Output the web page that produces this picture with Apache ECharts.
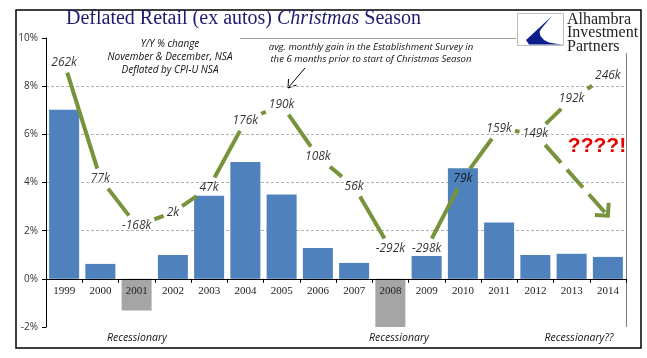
<!DOCTYPE html>
<html><head><meta charset="utf-8">
<script src="https://cdn.jsdelivr.net/npm/echarts@6/dist/echarts.min.js"></script>
<style>html,body{margin:0;padding:0;background:#fff}#c{width:647px;height:358px}</style>
</head><body><div id="c"></div>
<script>
// ---- data ----
const years = ['1999','2000','2001','2002','2003','2004','2005','2006','2007','2008','2009','2010','2011','2012','2013','2014'];
const retailYoY = [7.02,0.62,-1.31,0.99,3.45,4.85,3.50,1.28,0.66,-2.0,0.95,4.59,2.34,0.99,1.04,0.91];
const recessionYears = ['2001','2008'];
const payrollLabels = ['262k','77k','-168k','2k','47k','176k','190k','108k','56k','-292k','-298k','79k','159k','149k','192k','246k'];
// vertical placement of each payroll label, in units of the % axis
const payrollLabelPos = [8.98,4.16,2.21,2.75,3.79,6.56,7.23,5.07,3.83,1.26,1.26,4.16,6.23,6.02,7.47,8.43];
const arrowFromYear = '2012';
const arrowToYear = '2014';
const arrowTipPos = 2.62;
const yTicks = {min: -2, max: 10, interval: 2};
const recessionNotes = ['Recessionary', 'Recessionary', 'Recessionary??'];

// ---- drawing ----
const GREEN = '#77933C';
const LABEL_FONT_SIZE = 12;
const LABEL_FONT = 'italic ' + LABEL_FONT_SIZE + 'px "Open Sans"';
const mctx = document.createElement('canvas').getContext('2d');
mctx.font = LABEL_FONT;
const labelW = payrollLabels.map(t => mctx.measureText(t).width);

function exitT(dx, dy, hw, hh) {
  const tx = dx ? hw / Math.abs(dx) : Infinity;
  const ty = dy ? hh / Math.abs(dy) : Infinity;
  return Math.min(tx, ty);
}

const GRID = {left: 46, right: 21, top: 38, bottom: 31};
const plotH = 358 - GRID.top - GRID.bottom;
// distance from the bottom of the plot to the 0% line, derived from the y-axis range
const zeroOffset = plotH * (0 - yTicks.min) / (yTicks.max - yTicks.min);

const chart = echarts.init(document.getElementById('c'), null, {renderer: 'canvas'});

const barData = retailYoY.map((v, i) => ({
  value: v,
  itemStyle: {color: recessionYears.includes(years[i]) ? '#A5A5A5' : '#4F81BD'}
}));

const segData = payrollLabelPos.slice(0, -1).map((v, i) => [i, v]);
const labelData = payrollLabelPos.map((v, i) => [i, v]);
const fromIdx = years.indexOf(arrowFromYear), toIdx = years.indexOf(arrowToYear);

const option = {
  animation: false,
  title: {
    text: '{a|Deflated Retail (ex autos) }{b|Christmas}{a| Season}',
    left: 66, top: 9, padding: 0,
    textStyle: {
      fontWeight: 'normal',
      rich: {
        a: {fontFamily: '"Liberation Serif"', fontSize: 20, fontWeight: 'normal', color: '#1B1B6F'},
        b: {fontFamily: '"Liberation Serif"', fontSize: 20, fontWeight: 'normal', fontStyle: 'italic', color: '#1B1B6F'}
      }
    }
  },
  grid: Object.assign({containLabel: false}, GRID),
  xAxis: {
    type: 'category', data: years, z: 5, position: 'bottom', offset: -zeroOffset,
    axisLine: {onZero: false, lineStyle: {color: '#000', width: 1}},
    axisTick: {show: true, length: 4, lineStyle: {color: '#000'}},
    axisLabel: {fontFamily: '"Liberation Serif"', fontSize: 11, color: '#222', margin: 7}
  },
  yAxis: {
    type: 'value', min: yTicks.min, max: yTicks.max, interval: yTicks.interval,
    axisLine: {show: true, lineStyle: {color: '#000'}},
    axisTick: {show: true, length: 4, lineStyle: {color: '#000'}},
    axisLabel: {formatter: '{value}%', fontFamily: '"Open Sans"', fontSize: 10, color: '#333', margin: 8},
    splitLine: {show: true, showMinLine: false, showMaxLine: false, lineStyle: {color: '#B0B0B0', type: [3, 2]}}
  },
  series: [
    {type: 'bar', data: barData, barWidth: 30, z: 2, silent: true},
    {
      type: 'custom', z: 4, silent: true, data: segData,
      renderItem(params, api) {
        const i = params.dataIndex;
        const a = api.coord([i, payrollLabelPos[i]]);
        const b = api.coord([i + 1, payrollLabelPos[i + 1]]);
        const dx = b[0] - a[0], dy = b[1] - a[1];
        const ta = exitT(dx, dy, labelW[i] / 2 + 3, 10);
        const tb = exitT(dx, dy, labelW[i + 1] / 2 + 3, 10);
        if (ta + tb >= 0.95) return null;
        return {type: 'line',
          shape: {x1: a[0] + dx * ta, y1: a[1] + dy * ta, x2: b[0] - dx * tb, y2: b[1] - dy * tb},
          style: {stroke: GREEN, lineWidth: 4}};
      }
    },
    {
      type: 'custom', z: 4, silent: true, data: [[fromIdx, payrollLabelPos[fromIdx], toIdx, arrowTipPos]],
      renderItem(params, api) {
        const a = api.coord([api.value(0), api.value(1)]);
        const b = api.coord([api.value(2), api.value(3)]);
        const dx = b[0] - a[0], dy = b[1] - a[1];
        const len = Math.hypot(dx, dy);
        const ta = exitT(dx, dy, labelW[fromIdx] / 2 + 4, 11);
        const sx = a[0] + dx * ta, sy = a[1] + dy * ta;
        const ux = dx / len, uy = dy / len;
        const ang = Math.PI / 4, L = 13;
        const rot = (c, s) => [-(ux * c - uy * s), -(ux * s + uy * c)];
        const r1 = rot(Math.cos(ang), Math.sin(ang)), r2 = rot(Math.cos(-ang), Math.sin(-ang));
        return {type: 'group', children: [
          {type: 'line', shape: {x1: sx, y1: sy, x2: b[0] - ux * 2, y2: b[1] - uy * 2},
            style: {stroke: GREEN, lineWidth: 4, lineDash: [24, 9]}},
          {type: 'polyline', shape: {points: [[b[0] + r1[0] * L, b[1] + r1[1] * L], [b[0], b[1]], [b[0] + r2[0] * L, b[1] + r2[1] * L]]},
            style: {stroke: GREEN, lineWidth: 4, fill: null, lineJoin: 'miter'}}
        ]};
      }
    },
    {
      type: 'scatter', z: 6, silent: true, data: labelData, symbolSize: 0,
      label: {show: true, position: 'inside', formatter: p => payrollLabels[p.dataIndex],
        fontFamily: '"Open Sans"', fontStyle: 'italic', fontSize: LABEL_FONT_SIZE, color: '#000'}
    }
  ],
  graphic: [
    {type: 'rect', shape: {x: 16, y: 10, width: 625, height: 338}, style: {fill: null, stroke: '#000', lineWidth: 1.5}, silent: true},
    {type: 'line', shape: {x1: 240, y1: 38.5, x2: 516, y2: 38.5}, style: {stroke: '#A0A0A0', lineWidth: 1}, silent: true},
    {type: 'line', shape: {x1: 626.5, y1: 53, x2: 626.5, y2: 327}, style: {stroke: '#808080', lineWidth: 1}, silent: true},
    // logo
    {type: 'rect', shape: {x: 517.5, y: 13.5, width: 46, height: 32}, style: {fill: '#fff', stroke: '#BDBDBD', lineWidth: 1}, silent: true},
    {type: 'polygon', shape: {points: [[552,16],[526,40],[529,44.5],[563,44.5],[556,43.8],[549,42.5],[544,40],[540.5,36],[539.5,32],[541,29]]}, style: {fill: '#0B1E8E'}, silent: true},
    {type: 'text', x: 567, y: 13, style: {text: 'Alhambra\nInvestment\nPartners', fontFamily: '"Liberation Serif"', fontSize: 16, lineHeight: 13.5, fill: '#222'}, silent: true},
    // notes
    {type: 'text', x: 170, y: 38, style: {text: 'Y/Y % change\nNovember & December, NSA\nDeflated by CPI-U NSA', align: 'center', fontFamily: '"Open Sans"', fontStyle: 'italic', fontSize: 10, lineHeight: 13, fill: '#111'}, silent: true},
    {type: 'text', x: 371, y: 41, style: {text: 'avg. monthly gain in the Establishment Survey in\nthe 6 months prior to start of Christmas Season', align: 'center', fontFamily: '"Open Sans"', fontStyle: 'italic', fontSize: 9.6, lineHeight: 12.5, fill: '#111'}, silent: true},
    {type: 'polyline', shape: {points: [[305, 68], [288, 88]]}, style: {stroke: '#000', lineWidth: 1}, silent: true},
    {type: 'polyline', shape: {points: [[288.5, 79], [288, 88], [296.5, 85]]}, style: {stroke: '#000', lineWidth: 1, fill: null}, silent: true},
    {type: 'text', x: 597, y: 146, style: {text: '????!', align: 'center', verticalAlign: 'middle', fontFamily: '"Liberation Sans"', fontWeight: 'bold', fontSize: 21, fill: '#E60000'}, silent: true},
    {type: 'text', x: 137, y: 338, style: {text: recessionNotes[0], align: 'center', verticalAlign: 'middle', fontFamily: '"Open Sans"', fontStyle: 'italic', fontSize: 10.5, fill: '#111'}, silent: true},
    {type: 'text', x: 399, y: 338, style: {text: recessionNotes[1], align: 'center', verticalAlign: 'middle', fontFamily: '"Open Sans"', fontStyle: 'italic', fontSize: 10.5, fill: '#111'}, silent: true},
    {type: 'text', x: 579, y: 338, style: {text: recessionNotes[2], align: 'center', verticalAlign: 'middle', fontFamily: '"Open Sans"', fontStyle: 'italic', fontSize: 10.5, fill: '#111'}, silent: true}
  ]
};
chart.setOption(option);
</script>
</body></html>
